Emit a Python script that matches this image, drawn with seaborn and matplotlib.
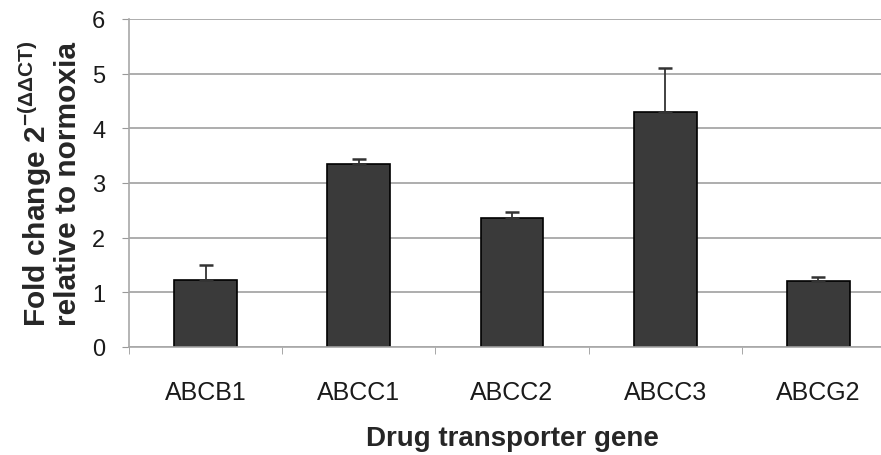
import numpy as np
import pandas as pd
import matplotlib.pyplot as plt
import seaborn as sns

genes = ['ABCB1', 'ABCC1', 'ABCC2', 'ABCC3', 'ABCG2']
fold_change = [1.22, 3.35, 2.36, 4.30, 1.21]
err_upper = [0.28, 0.08, 0.11, 0.80, 0.07]

df = pd.DataFrame({'gene': genes, 'fold': fold_change})

sns.set_style('white')
plt.rcParams['font.family'] = ['Liberation Sans', 'DejaVu Sans']

fig = plt.figure(figsize=(8.81, 4.56), dpi=100)
ax = fig.add_axes([129/881, 1 - 348/456, 766/881, 328/456])

# gridlines behind bars
ax.set_axisbelow(True)
ax.yaxis.grid(True, color='#a0a0a0', linewidth=1.2)

sns.barplot(x='gene', y='fold', data=df, color='#3a3a3a', width=0.41,
            edgecolor='black', linewidth=1.2, saturation=1, ax=ax)
ax.errorbar(np.arange(len(genes)), fold_change,
            yerr=[np.zeros(len(genes)), err_upper],
            fmt='none', ecolor='#333333', elinewidth=1.3, capsize=5, capthick=1.8)

ax.set_xlim(-0.5, 4.5)
ax.set_ylim(0, 6)
ax.set_yticks(range(0, 7))
ax.tick_params(axis='y', length=5, color='#999999', labelsize=17, pad=12,
               left=True, labelcolor='#1a1a1a')
ax.tick_params(axis='x', which='major', length=0, labelsize=18, pad=24,
               labelcolor='#1a1a1a')
ax.set_xticks(np.arange(-0.5, 5.0, 1.0), minor=True)
ax.tick_params(axis='x', which='minor', length=5, color='#999999', bottom=True)

for side in ['top', 'right']:
    ax.spines[side].set_visible(False)
for side in ['left', 'bottom']:
    ax.spines[side].set_color('#a8a8a8')
    ax.spines[side].set_linewidth(1.2)

ax.set_xlabel('Drug transporter gene', fontsize=20, fontweight='bold', labelpad=15)
ax.set_ylabel('Fold change 2$^{\\mathregular{-(\\Delta\\Delta CT)}}$\nrelative to normoxia',
              fontsize=21.5, fontweight='bold', labelpad=7, linespacing=1.0)

fig.savefig('out.png', dpi=100)
